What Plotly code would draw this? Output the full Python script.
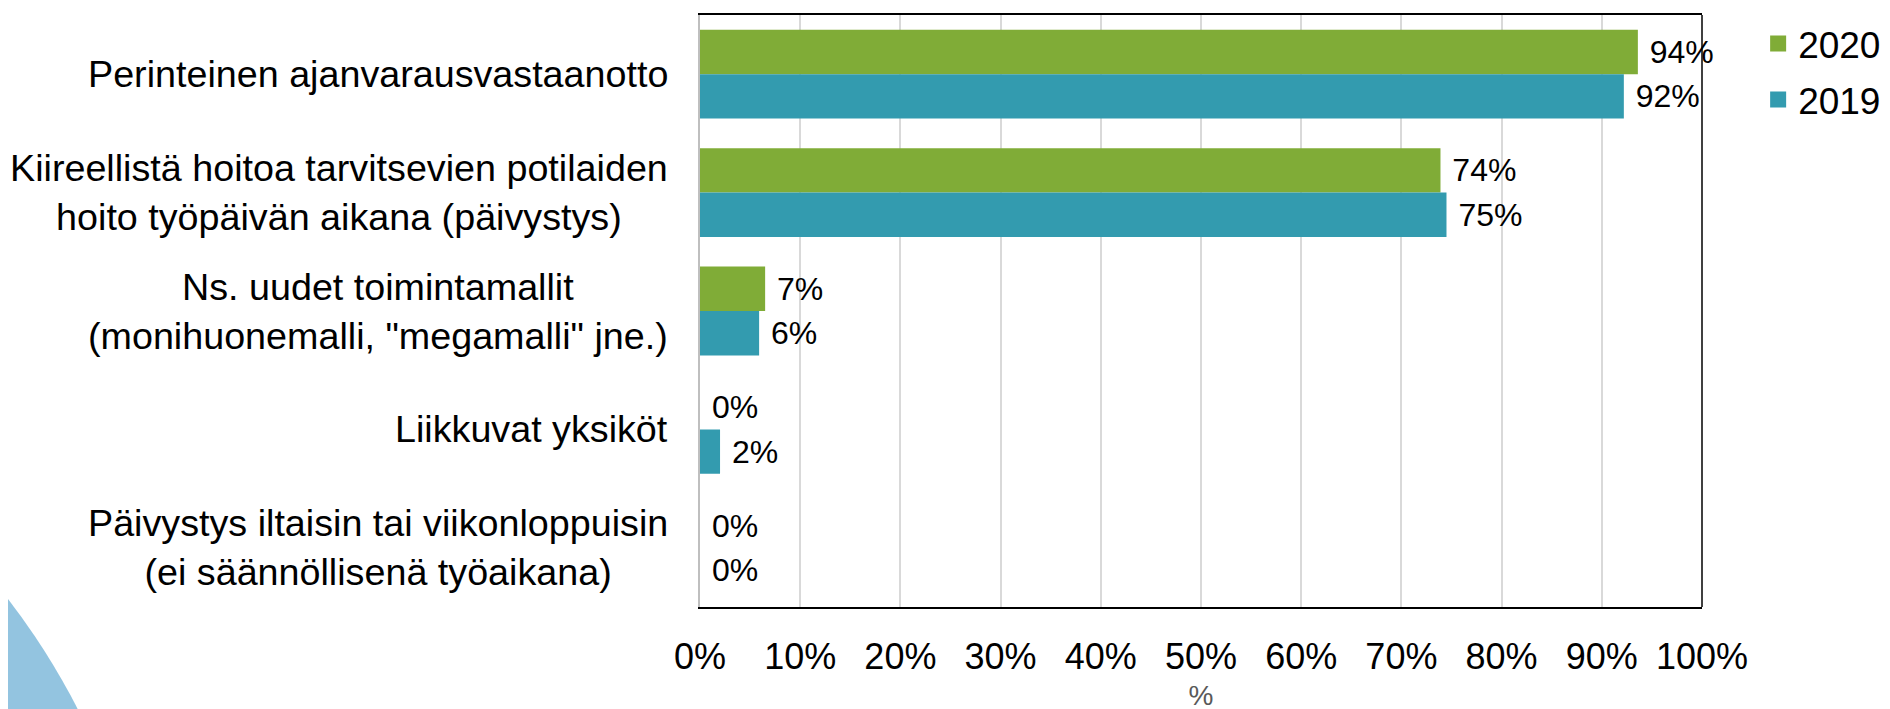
import plotly.graph_objects as go

# categories (top to bottom) and values, as fractions
categories = [
    "Perinteinen ajanvarausvastaanotto",
    "Kiireellistä hoitoa tarvitsevien potilaiden<br>hoito työpäivän aikana (päivystys)",
    "Ns. uudet toimintamallit<br>(monihuonemalli, \"megamalli\" jne.)",
    "Liikkuvat yksiköt",
    "Päivystys iltaisin tai viikonloppuisin<br>(ei säännöllisenä työaikana)",
]
values_2020 = [0.936, 0.739, 0.065, 0.0, 0.0]
values_2019 = [0.922, 0.745, 0.059, 0.020, 0.0]
labels_2020 = ["94%", "74%", "7%", "0%", "0%"]
labels_2019 = ["92%", "75%", "6%", "2%", "0%"]
tick_vals = [i / 10 for i in range(11)]
tick_text = [f"{i * 10}%" for i in range(11)]

FONT = "Liberation Sans, Arial, sans-serif"
GREEN = "#80AC37"
BLUE = "#339BAF"

series = [("2020", values_2020, labels_2020, GREEN),
          ("2019", values_2019, labels_2019, BLUE)]

fig = go.Figure()

for name, vals, labs, col in series:
    fig.add_trace(go.Bar(
        y=categories, x=vals, name=name, orientation="h", legendgroup=name,
        showlegend=False,
        marker=dict(color=col, line=dict(width=0)),
        text=["\u00a0" + t for t in labs],
        textposition="outside", constraintext="none", cliponaxis=False,
        textfont=dict(family=FONT, size=32, color="black"),
    ))

# legend entries with bigger square swatches than the bar default
for name, vals, labs, col in series:
    fig.add_trace(go.Scatter(
        x=[None], y=[None], mode="markers", name=name, legendgroup=name,
        marker=dict(symbol="square", size=16, color=col),
    ))

# category labels as centred annotations (plotly tick labels are right-aligned)
for c in categories:
    fig.add_annotation(
        x=0, xref="paper", y=c, yref="y", xanchor="right", yanchor="middle",
        xshift=-30, text=c, showarrow=False, align="center",
        font=dict(family=FONT, size=37.7, color="black"),
    )

# right border of the plot frame
fig.add_shape(type="line", xref="paper", yref="paper", x0=1, x1=1, y0=0, y1=1,
              line=dict(color="black", width=1.5))

# light blue circle from the slide background, lower left corner
fig.add_shape(type="circle", xref="paper", yref="paper", layer="below",
              x0=-1.955, x1=-0.545, y0=-1.895, y1=0.478,
              fillcolor="#93C4E0", line=dict(width=0))

fig.update_layout(
    width=1890, height=709, autosize=False,
    margin=dict(l=692, r=196, t=5, b=110),
    barmode="group", bargap=0.25, bargroupgap=0,
    plot_bgcolor="white", paper_bgcolor="white",
    font=dict(family=FONT, color="black"),
    legend=dict(xref="container", yref="container", x=0.926, y=0.993,
                xanchor="left", yanchor="top",
                font=dict(family=FONT, size=37), traceorder="grouped",
                tracegroupgap=5, bgcolor="rgba(0,0,0,0)"),
    showlegend=True,
)

fig.update_xaxes(
    range=[0, 1], tickvals=tick_vals, ticktext=tick_text,
    tickfont=dict(family=FONT, size=36, color="black"),
    showgrid=True, gridcolor="#D9D9D9", gridwidth=1.5,
    showline=True, linecolor="black", linewidth=1.5, mirror=True,
    ticks="", ticklabelstandoff=17, zeroline=False,
    title=dict(text="%", font=dict(family=FONT, size=28, color="#595959"), standoff=9),
)
fig.update_yaxes(
    autorange="reversed", showticklabels=False, ticks="",
    showline=True, linecolor="#BFBFBF", linewidth=2, showgrid=False,
)

fig.write_html("out.html")
